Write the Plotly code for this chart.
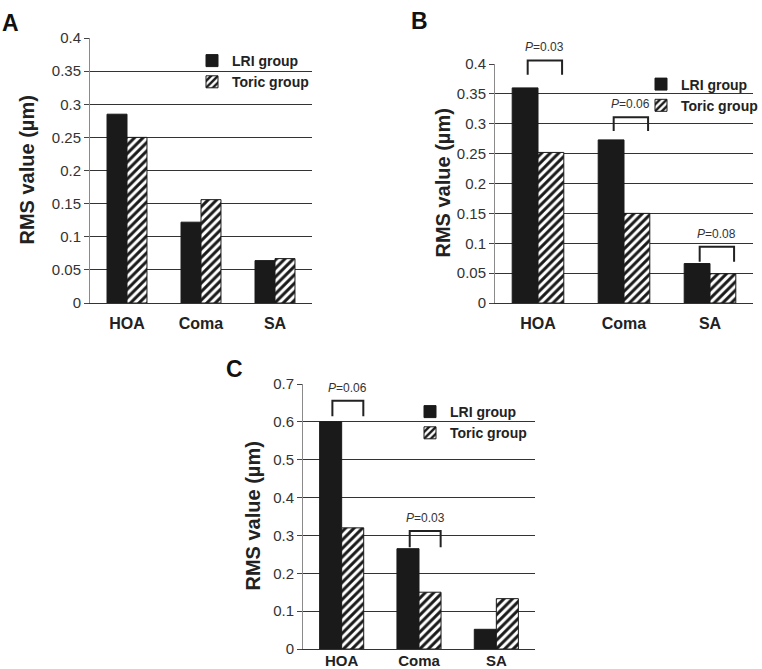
import plotly.graph_objects as go

categories = ["HOA", "Coma", "SA"]

# Panel A
a_lri = [0.285, 0.122, 0.064]
a_toric = [0.250, 0.156, 0.067]
# Panel B
b_lri = [0.360, 0.273, 0.066]
b_toric = [0.252, 0.150, 0.049]
# Panel C
c_lri = [0.600, 0.265, 0.052]
c_toric = [0.320, 0.150, 0.133]

# significance brackets: category, bracket top, bracket tips, label
b_br_cat = ["HOA", "Coma", "SA"]
b_br_top = [0.406, 0.311, 0.094]
b_br_tip = [0.382, 0.288, 0.069]
b_br_p = ["0.03", "0.06", "0.08"]

c_br_cat = ["HOA", "Coma"]
c_br_top = [0.656, 0.312]
c_br_tip = [0.615, 0.269]
c_br_p = ["0.06", "0.03"]

FONT = "Liberation Sans, Arial, sans-serif"
BLACK = "#1a1a1a"
W, H = 762, 669

panels = [
    dict(lri=a_lri, toric=a_toric, xa="x", ya="y", xd=[90 / W, 312 / W], yd=[1 - 303 / H, 1 - 38 / H],
         ymax=0.4, dtick=0.05, w=0.27, leg="legend", stand=6, xfs=16),
    dict(lri=b_lri, toric=b_toric, xa="x2", ya="y2", xd=[495 / W, 753 / W], yd=[1 - 303 / H, 1 - 64 / H],
         ymax=0.4, dtick=0.05, w=0.30, leg="legend2", stand=6, xfs=16),
    dict(lri=c_lri, toric=c_toric, xa="x3", ya="y3", xd=[303 / W, 535 / W], yd=[1 - 649 / H, 1 - 384 / H],
         ymax=0.7, dtick=0.1, w=0.285, leg="legend3", stand=-2, xfs=15),
]

fig = go.Figure()
for p in panels:
    fig.add_trace(go.Bar(
        x=categories, y=p["lri"], name="LRI group", xaxis=p["xa"], yaxis=p["ya"],
        width=p["w"], offset=-p["w"], legend=p["leg"],
        marker=dict(color=BLACK, line=dict(color=BLACK, width=1)),
    ))
    fig.add_trace(go.Bar(
        x=categories, y=p["toric"], name="Toric group", xaxis=p["xa"], yaxis=p["ya"],
        width=p["w"], offset=0, legend=p["leg"],
        marker=dict(color="white", line=dict(color=BLACK, width=1),
                    pattern=dict(shape="/", fgcolor=BLACK, bgcolor="white",
                                 fillmode="replace", size=6, solidity=0.5)),
    ))

layout = dict(
    width=W, height=H, margin=dict(l=0, r=0, t=0, b=0, autoexpand=False),
    paper_bgcolor="white", plot_bgcolor="white",
    font=dict(family=FONT, color="#222"),
    barmode="overlay", showlegend=True,
)

for i, p in enumerate(panels):
    sx = "" if i == 0 else str(i + 1)
    layout["xaxis" + sx] = dict(
        domain=p["xd"], anchor=p["ya"], type="category", range=[-0.5, 2.5], automargin=False,
        showline=True, linecolor="#333", linewidth=1, ticks="", showgrid=False,
        tickfont=dict(size=p["xfs"], weight="bold", color="#222"), ticklabelstandoff=p["stand"],
        fixedrange=True,
    )
    layout["yaxis" + sx] = dict(
        domain=p["yd"], anchor=p["xa"], range=[0, p["ymax"]], dtick=p["dtick"], automargin=False,
        showline=True, linecolor="#8a8a8a", linewidth=1,
        ticks="outside", ticklen=5, tickcolor="#444",
        showgrid=True, gridcolor="#333", gridwidth=1, zeroline=False,
        tickfont=dict(size=15, color="#333"),
    )

legend_common = dict(font=dict(size=14, weight="bold", color="#222"), bgcolor="rgba(0,0,0,0)",
                     xanchor="left", yanchor="top", tracegroupgap=0, itemwidth=30,
                     xref="container", yref="container")
layout["legend"] = dict(legend_common, x=192 / W, y=1 - 45 / H)
layout["legend2"] = dict(legend_common, x=641 / W, y=1 - 68.5 / H)
layout["legend3"] = dict(legend_common, x=410 / W, y=1 - 396 / H)

fig.update_layout(**layout)

# y titles and panel letters
ytitle = "RMS value (µm)"
for (xp, yp) in [(26 / W, 1 - 170.5 / H), (443 / W, 1 - 183.5 / H), (252 / W, 1 - 516.5 / H)]:
    fig.add_annotation(x=xp, y=yp, xref="paper", yref="paper", text=ytitle, textangle=-90,
                       xanchor="center", yanchor="middle",
                       showarrow=False, font=dict(size=20, weight="bold", color="#222"))
for letter, (xp, yp) in zip(["A", "B", "C"], [(10 / W, 1 - 23 / H), (419 / W, 1 - 21 / H),
                                              (234 / W, 1 - 369 / H)]):
    fig.add_annotation(x=xp, y=yp, xref="paper", yref="paper", text=letter, showarrow=False,
                       xanchor="center", yanchor="middle",
                       font=dict(size=23, weight="bold", color="#111"))


def add_brackets(cats, tops, tips, pvals, xa, ya, ymax):
    for c, top, tip, pv in zip(cats, tops, tips, pvals):
        xi = categories.index(c)
        x0, x1 = xi - 0.12, xi + 0.28
        yd = ya + " domain"
        fig.add_shape(type="path", xref=xa, yref=yd,
                      path=f"M {x0} {tip / ymax} L {x0} {top / ymax} L {x1} {top / ymax} L {x1} {tip / ymax}",
                      line=dict(color="#222", width=2))
        fig.add_annotation(x=(x0 + x1) / 2, y=top / ymax, xref=xa, yref=yd,
                           text="<i>P</i>=" + pv, showarrow=False, yanchor="bottom", yshift=4,
                           font=dict(size=12, color="#333"))


add_brackets(b_br_cat, b_br_top, b_br_tip, b_br_p, "x2", "y2", 0.4)
add_brackets(c_br_cat, c_br_top, c_br_tip, c_br_p, "x3", "y3", 0.7)

fig.write_html("out.html", config={"displayModeBar": False},
               post_script="document.body.style.margin='0';document.body.style.overflow='hidden';")
